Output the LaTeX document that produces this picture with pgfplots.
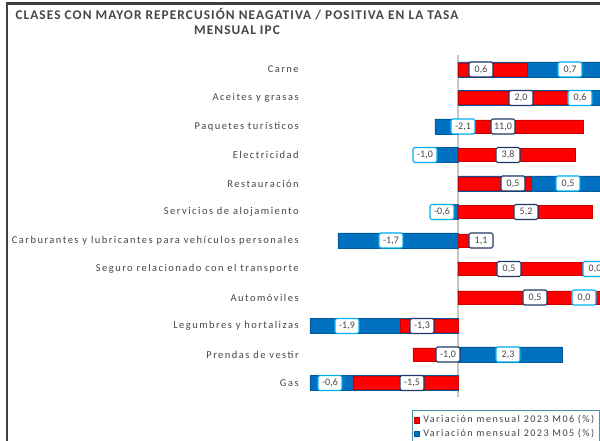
\documentclass[border=0pt]{standalone}
\usepackage{fontspec}
\setmainfont{Carlito}
\newfontfamily\lblfont[LetterSpace=14]{Carlito}
\newfontfamily\ttlfont[LetterSpace=8]{Carlito}
\usepackage{pgfplots}
\pgfplotsset{compat=1.18}
\usepackage{pgfplotstable}

\definecolor{barred}{RGB}{255,0,0}
\definecolor{barblue}{RGB}{0,112,192}
\definecolor{navyedge}{RGB}{32,56,100}
\definecolor{skyedge}{RGB}{0,176,240}
\definecolor{txtgray}{RGB}{70,70,70}

\tikzset{
  redlab/.style={draw=navyedge, fill=white, rounded corners=1pt, line width=0.7pt,
    inner sep=1pt, minimum width=14.4pt, minimum height=9pt,
    font=\fontsize{6}{7}\selectfont, text=txtgray, anchor=center},
  bluelab/.style={redlab, draw=skyedge},
}

% bar ends (repercussion scale), row 0 = Carne ... row 11 = Gas
\pgfplotstableread{
row m06
0 0.69
1 1.15
2 1.25
3 1.17
4 0.73
5 1.34
6 0.15
7 1.24
8 1.60
9 -0.58
10 -0.45
11 -1.05
}\mseis
\pgfplotstableread{
row m05
0 1.60
1 1.60
2 -0.23
3 -0.25
4 1.60
5 -0.15
6 -1.20
7 0.00
8 0.00
9 -1.48
10 1.04
11 -1.48
}\mcinco
% label positions and texts (monthly variation, %)
\pgfplotstableread{
x row lab
0.23 0 0,6
0.63 1 2,0
0.45 2 11,0
0.50 3 3,8
0.55 4 0,5
0.68 5 5,2
0.23 6 1,1
0.51 7 0,5
0.77 8 0,5
-0.36 9 -1,3
-0.10 10 -1,0
-0.46 11 -1,5
}\labseis
\pgfplotstableread{
x row lab
1.12 0 0,7
1.22 1 0,6
0.05 2 -2,1
-0.33 3 -1,0
1.10 4 0,5
-0.16 5 -0,6
-0.67 6 -1,7
1.37 7 0,0
1.26 8 0,0
-1.11 9 -1,9
0.50 10 2,3
-1.28 11 -0,6
}\labcinco

\begin{document}
\begin{tikzpicture}
\path[use as bounding box, clip] (0,0) rectangle (360pt,264.6pt);
\draw[black!75, line width=1.5pt] (4.2pt,-1pt) -- (4.2pt,262.6pt) -- (362pt,262.6pt);
\node[align=center, font=\ttlfont\bfseries\fontsize{8}{9}\selectfont, text=txtgray]
  at (142.2pt,251.7pt) {CLASES CON MAYOR REPERCUSIÓN NEAGATIVA / POSITIVA EN LA TASA\\MENSUAL IPC};
\begin{axis}[
    at={(183pt,26.25pt)}, anchor=south west,
    scale only axis, width=177pt, height=205.2pt,
    xmin=-1.53, xmax=1.42, ymin=-0.5, ymax=11.5,
    y dir=reverse,
    axis line style={draw=none},
    xtick=\empty,
    ytick={0,...,11},
    yticklabels={Carne, Aceites y grasas, Paquetes turísticos, Electricidad, Restauración,
      Servicios de alojamiento, Carburantes y lubricantes para vehículos personales,
      Seguro relacionado con el transporte, Automóviles, Legumbres y hortalizas,
      Prendas de vestir, Gas},
    major tick length=0pt,
    yticklabel style={font=\lblfont\fontsize{6.3}{7}\selectfont, text=txtgray, inner sep=0pt, xshift=-3.6pt},
    reverse legend,
    legend style={at={(0.363,-0.037)}, anchor=north west, draw=gray!60!skyedge,
      font=\lblfont\fontsize{6.1}{6.5}\selectfont, text=txtgray, inner sep=1pt, row sep=-1.8pt,
      cells={anchor=west}},
    legend image code/.code={\fill[#1] (0pt,-1.6pt) rectangle (3.2pt,1.6pt);},
]
\draw[gray!45, line width=1pt] (axis cs:0,-0.7) -- (axis cs:0,11.5);
\addplot[xbar, bar shift=0pt, bar width=9pt, fill=barblue, draw=barblue!80!black, line width=0.3pt]
  table[x=m05, y=row] {\mcinco};
\addlegendentry{Variación mensual 2023 M05 (\%)}
\addplot[xbar, bar shift=0pt, bar width=7.8pt, fill=barred, draw=barred!80!black, line width=0.3pt]
  table[x=m06, y=row] {\mseis};
\addlegendentry{Variación mensual 2023 M06 (\%)}
\addplot[forget plot, only marks, mark=none, point meta=explicit symbolic,
  nodes near coords, nodes near coords style={bluelab}]
  table[x=x, y=row, meta=lab] {\labcinco};
\addplot[forget plot, only marks, mark=none, point meta=explicit symbolic,
  nodes near coords, nodes near coords style={redlab}]
  table[x=x, y=row, meta=lab] {\labseis};
\end{axis}
\end{tikzpicture}
\end{document}
